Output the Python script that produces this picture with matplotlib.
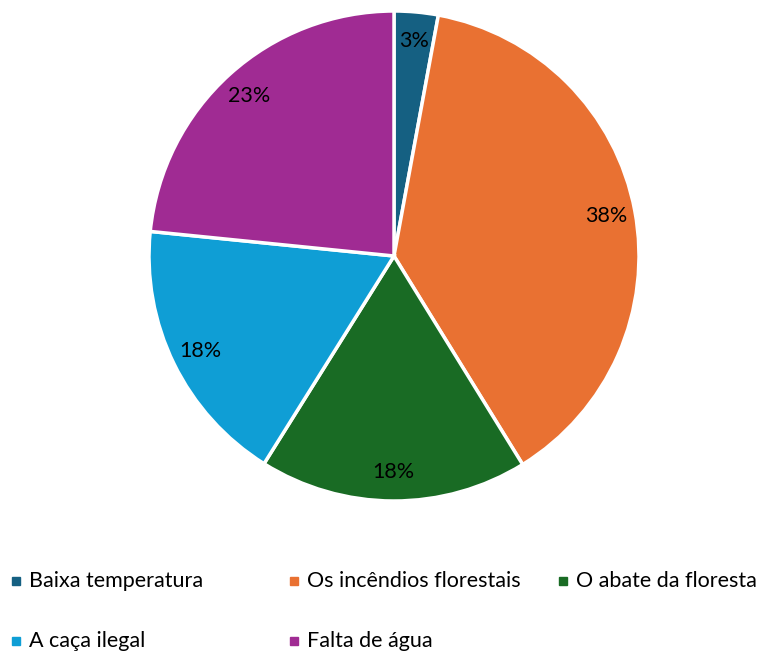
import matplotlib.pyplot as plt
from matplotlib.patches import Rectangle

# data
labels = ['Baixa temperatura', 'Os incêndios florestais', 'O abate da floresta',
          'A caça ilegal', 'Falta de água']
shares = [2.9, 38.3, 17.7, 17.7, 23.4]
colors = ['#156082', '#E97132', '#196B24', '#0F9ED5', '#A02B93']

plt.rcParams['font.family'] = ['Lato', 'DejaVu Sans']

W, H = 767, 658
fig = plt.figure(figsize=(W / 100, H / 100), dpi=100)

# pie placed in pixel coords
cx, cy, R = 394, 256, 245
ax = fig.add_axes([(cx - R) / W, (H - cy - R) / H, 2 * R / W, 2 * R / H])
wedges, texts, autotexts = ax.pie(
    shares, colors=colors, startangle=90, counterclock=False, radius=1,
    autopct=lambda p: f'{p:.0f}%', pctdistance=0.88,
    wedgeprops=dict(edgecolor='white', linewidth=2.5),
    textprops=dict(fontsize=15.5, color='black'))
ax.set_xlim(-1, 1)
ax.set_ylim(-1, 1)
ax.set_aspect('equal')
ax.axis('off')

# legend laid out like the Excel one (rows of 3)
col_x = [12, 290, 559]
row_y = [581, 641]
for i, (lab, col) in enumerate(zip(labels, colors)):
    x = col_x[i % 3]
    y = row_y[i // 3]
    fig.patches.append(Rectangle((x / W, 1 - (y + 4) / H), 8 / W, 8 / H,
                                 transform=fig.transFigure, color=col))
    fig.text((x + 17) / W, 1 - y / H, lab, fontsize=15.5, va='center', ha='left')

fig.savefig('out.png', dpi=100)
